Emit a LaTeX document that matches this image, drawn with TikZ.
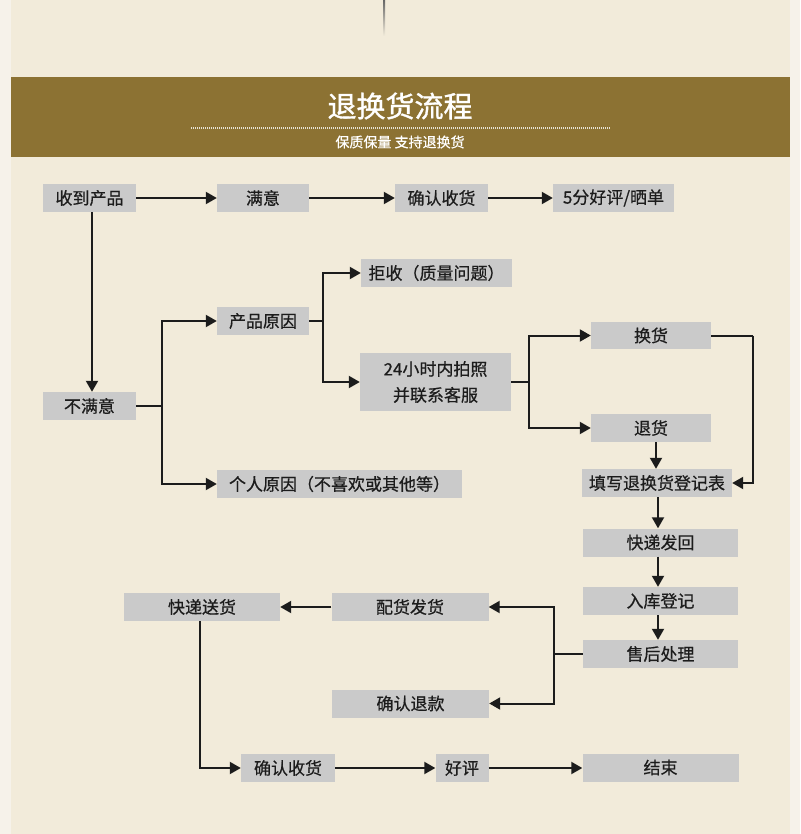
\documentclass[tikz,border=0pt]{standalone}
\usepackage{fontspec}
\newfontfamily\cjk[FakeBold=0.6]{Noto Sans CJK SC}
\newfontfamily\cjkhead[FakeBold=1.2]{Noto Sans CJK SC}
\usetikzlibrary{arrows.meta,positioning,calc}
\definecolor{paper}{HTML}{F2EBDA}
\definecolor{rim}{HTML}{F6F2EA}
\definecolor{band}{HTML}{8C7233}
\definecolor{boxgray}{HTML}{CACACA}
\definecolor{ink}{HTML}{1C1C1C}

\begin{document}
\begin{tikzpicture}[x=1pt, y=-1pt,
  stage/.style={fill=boxgray, inner sep=0pt, minimum width=#1, minimum height=28pt, align=center, text=ink, font=\cjk\fontsize{17}{26}\selectfont},
  level/.style={-{Triangle[length=11pt,width=12pt]}, line width=2pt, draw=ink},
  wire/.style={line width=2pt, draw=ink}
]
\useasboundingbox (0,0) rectangle (800,834);
\fill[rim] (0,0) rectangle (800,834);
\fill[paper] (11,0) rectangle (790,834);
\shade[top color=black!60, bottom color=paper] (383,0) rectangle (385,36);

\fill[band] (11,77) rectangle (790,157);
\node[text=white, font=\cjkhead\fontsize{29}{32}\selectfont] (title) at (400,106) {退换货流程};
\draw[white!80!band, line width=2.5pt, dash pattern=on 1pt off 1pt] (191,128) -- (610,128);
\node[text=white, font=\cjk\fontsize{14}{16}\selectfont] (subtitle) at (400,142) {保质保量 支持退换货};

\node[stage=93pt] (prod) at (89.5,198) {收到产品};
\node[stage=92pt] (ok) at (263,198) {满意};
\node[stage=93pt] (okconfirm) at (441.5,198) {确认收货};
\node[stage=121pt] (okpraise) at (613.5,198) {5分好评/晒单};
\node[stage=93pt] (notok) at (89.5,406) {不满意};
\node[stage=92pt] (reason) at (263,321) {产品原因};
\node[stage=151pt] (reject) at (436.5,273) {拒收（质量问题）};
\node[stage=151pt, minimum height=58pt] (photo) at (435.5,382) {24小时内拍照\\并联系客服};
\node[stage=245pt] (personal) at (339.5,484) {个人原因（不喜欢或其他等）};
\node[stage=120pt, minimum height=27pt] (swap) at (651,335.5) {换货};
\node[stage=120pt] (ret) at (651,428) {退货};
\node[stage=150pt] (form) at (657,483) {填写退换货登记表};
\node[stage=155pt] (sendback) at (660.5,542.5) {快递发回};
\node[stage=155pt] (stock) at (660.5,601) {入库登记};
\node[stage=155pt] (after) at (660.5,654) {售后处理};
\node[stage=157pt] (ship) at (410,607) {配货发货};
\node[stage=156pt] (deliver) at (202,607) {快递送货};
\node[stage=157pt] (refund) at (410.5,703.5) {确认退款};
\node[stage=94pt] (recv) at (288,768) {确认收货};
\node[stage=53pt] (good) at (462,768) {好评};
\node[stage=156pt] (done) at (660.5,767.5) {结束};

\coordinate (split1) at (162,406);
\coordinate (split2) at (323,321);
\coordinate (split3) at (529,382);
\coordinate (turn1) at (753,335.5);
\coordinate (split4) at (554,654);

\draw[level] (prod) -- (ok);
\draw[level] (ok) -- (okconfirm);
\draw[level] (okconfirm) -- (okpraise);
\draw[level] (prod.south -| 92,0) -- (notok.north -| 92,0);
\draw[wire] (notok.east) -- (split1);
\draw[level] (split1) |- (reason.west);
\draw[level] (split1) |- (personal.west);
\draw[wire] (reason.east) -- (split2);
\draw[level] (split2) |- (reject.west);
\draw[level] (split2) |- (photo.west);
\draw[wire] (photo.east) -- (split3);
\draw[level] (split3) |- (swap.west);
\draw[level] (split3) |- (ret.west);
\draw[wire] (swap.east) -- (turn1);
\draw[level] (turn1) |- (form.east);
\draw[level] (ret.south -| 656,0) -- (form.north -| 656,0);
\draw[level] (form.south -| 658,0) -- (sendback.north -| 658,0);
\draw[level] (sendback.south -| 658,0) -- (stock.north -| 658,0);
\draw[level] (stock.south -| 658,0) -- (after.north -| 658,0);
\draw[wire] (after.west) -- (split4);
\draw[level] (split4) |- (ship.east);
\draw[level] (split4) |- (refund.east);
\draw[level] (ship) -- (deliver);
\draw[level] (deliver.south -| 200,0) |- (recv.west);
\draw[level] (recv) -- (good);
\draw[level] (good.east) -- (good.east -| done.west);
\end{tikzpicture}
\end{document}
